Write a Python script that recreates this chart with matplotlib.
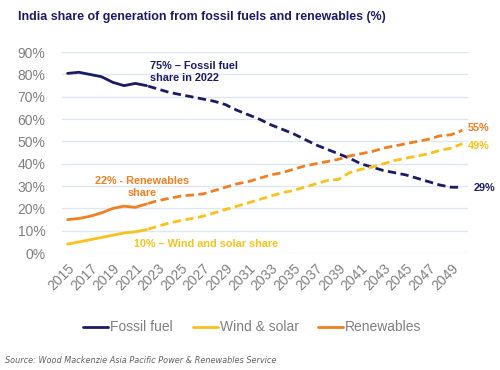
import numpy as np
import matplotlib
matplotlib.use("Agg")
import matplotlib.pyplot as plt

# Data
years = list(range(2015, 2051))
fossil = [80.5, 81, 80, 79, 76.5, 75, 76, 75,
          73.5, 72, 71, 70, 69, 68, 66.5, 64, 62, 60, 57.5, 55.5, 53.5, 51,
          48.5, 46.5, 44.5, 42.5, 40, 38.5, 37, 36, 35, 33.5, 32, 30.5, 29.5, 29.5]
wind_solar = [4, 5, 6, 7, 8, 9, 9.5, 10.5,
              12, 13.5, 14.5, 15.5, 16.5, 18, 19.5, 21, 22.5, 24, 25.5, 27, 28, 29.5,
              31, 32.5, 33, 36, 37.5, 38.5, 40, 41.5, 42.5, 43.5, 44.5, 46, 47, 49]
renewables = [15, 15.5, 16.5, 18, 20, 21, 20.5, 22,
              23.5, 24.5, 25.5, 26, 26.5, 28, 29.5, 31, 32, 33.5, 35, 36, 37.5, 39,
              40, 41, 42, 43.5, 44.5, 45.5, 47, 48, 49, 50, 51, 52.5, 53, 55]
last_actual = 2022
xtick_years = list(range(2015, 2050, 2))
yticks = list(range(0, 91, 10))

NAVY = "#1b1b64"
YELLOW = "#f8c21c"
ORANGE = "#ef7f22"
GREY = "#7f7f7f"

plt.rcParams["font.family"] = ["Liberation Sans", "DejaVu Sans"]

fig = plt.figure(figsize=(5, 3.7), dpi=100)
ax = fig.add_axes([0.124, 0.316, 0.812, 0.543])

yrs = np.array(years)
hist = yrs <= last_actual
proj = yrs >= last_actual
series = [("Fossil fuel", fossil, NAVY),
          ("Wind & solar", wind_solar, YELLOW),
          ("Renewables", renewables, ORANGE)]
handles = []
for name, vals, col in series:
    vals = np.array(vals)
    h, = ax.plot(yrs[hist], vals[hist], color=col, lw=2, solid_capstyle="round", label=name)
    ax.plot(yrs[proj], vals[proj], color=col, lw=2, linestyle=(4, (3, 1.6)))
    handles.append(h)

ax.set_xlim(2014.5, 2050.5)
ax.set_ylim(0, 90)
ax.set_yticks(yticks)
ax.set_yticklabels([f"{v}%" for v in yticks])
ax.set_xticks(xtick_years)
ax.set_xticklabels([str(y) for y in xtick_years], rotation=45, ha="right",
                   rotation_mode="anchor")
ax.tick_params(length=0, labelsize=10, labelcolor=GREY)
ax.tick_params(axis="y", pad=12)
ax.tick_params(axis="x", pad=6)
ax.grid(axis="y", color="#dde6f3", lw=1)
ax.set_axisbelow(True)
for s in ax.spines.values():
    s.set_visible(False)

# annotations
ax.text(2022.3, 81, "75% – Fossil fuel\nshare in 2022", color=NAVY, fontsize=7.8,
        fontweight="bold", va="center", ha="left", linespacing=1.3)
ax.text(2021.6, 29.5, "22% - Renewables\nshare", color=ORANGE, fontsize=7.8,
        fontweight="bold", va="center", ha="center", multialignment="center",
        linespacing=1.3)
ax.text(2020.9, 4, "10% – Wind and solar share", color=YELLOW, fontsize=7.8,
        fontweight="bold", va="center", ha="left")
ax.text(2050.5, 56, "55%", color=ORANGE, fontsize=7.8, fontweight="bold", va="center")
ax.text(2050.5, 48, "49%", color=YELLOW, fontsize=7.8, fontweight="bold", va="center")
ax.text(2051, 29, "29%", color=NAVY, fontsize=7.8, fontweight="bold", va="center")

fig.text(0.036, 0.953, "India share of generation from fossil fuels and renewables (%)",
         color=NAVY, fontsize=8.9, fontweight="bold", va="center", ha="left")

fig.legend(handles=handles, loc="center", bbox_to_anchor=(0.505, 0.115), ncol=3,
           frameon=False, fontsize=10, handlelength=1.8, handletextpad=0.15,
           columnspacing=1.4, labelcolor=GREY)

fig.text(0.01, 0.027, "Source: Wood Mackenzie Asia Pacific Power & Renewables Service",
         color="#606060", fontsize=5.9, style="italic", family="DejaVu Sans",
         va="center", ha="left")

fig.savefig("out.png", dpi=100)
